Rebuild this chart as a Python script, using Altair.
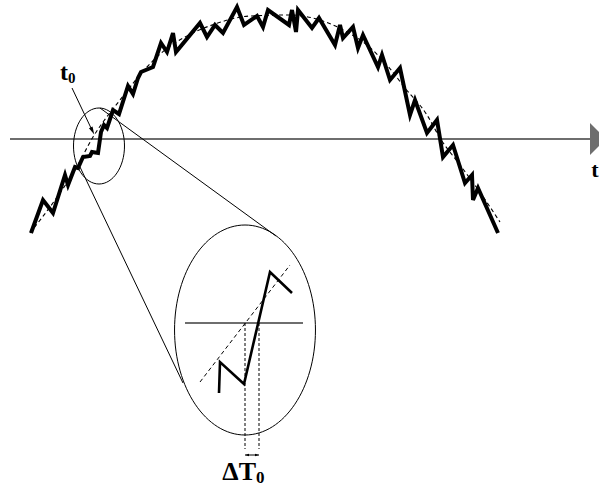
import altair as alt
import pandas as pd

W, H = 599, 488

# noisy signal, drawing units (y grows downward)
trace_x = [31, 43, 53, 65, 68, 75, 78, 83, 90, 92, 98, 101, 104, 107, 113, 119, 128, 133, 138, 141,
           153, 161, 167, 173, 176, 200, 207, 215, 223, 237, 244, 257, 263, 268, 289, 292, 296, 298,
           312, 319, 335, 340, 343, 353, 358, 363, 378, 382, 390, 400, 410, 415, 427, 437, 443, 453,
           465, 472, 473, 478, 498]
trace_y = [233, 200, 213, 175, 185, 167, 168, 157, 156, 152, 153, 132, 125, 128, 110, 114, 86, 94, 78, 72,
           67, 43, 52, 33, 52, 23, 37, 25, 33, 7, 25, 16, 27, 10, 25, 10, 32, 10,
           28, 18, 45, 25, 38, 27, 48, 35, 67, 55, 80, 68, 115, 100, 133, 120, 157, 145,
           183, 175, 200, 188, 233]

# smooth trend under the noise
trend_x = [30, 55, 75, 93, 120, 147, 165, 185, 215, 250, 290, 320, 347, 367, 387, 405, 427, 440, 460, 477, 500]
trend_y = [233, 200, 170, 137, 100, 67, 50, 37, 24, 16, 15, 20, 32, 45, 65, 88, 115, 138, 165, 188, 222]

# time axis
axis_x = [10, 592]
axis_y = [139, 139]

# magnified detail around the crossing
zoom_trace_x = [219, 220, 244, 270, 292]
zoom_trace_y = [393, 362, 384, 272, 293]
zoom_trend_x = [200, 290]
zoom_trend_y = [382, 265]
zoom_axis_x = [185, 303]
zoom_axis_y = [323, 323]
drop_x = [245, 259]
drop_top, drop_bottom = 323, 449
delta_y = 455

# lens outlines: centre x, centre y, half height
lens_x = [99, 245]
lens_y = [146, 330]
lens_ry = [38, 105]

# connector lines between the two lenses
conn_x1 = [100, 80]
conn_y1 = [108, 167]
conn_x2 = [276, 183]
conn_y2 = [236, 383]

# pointer to t0
ptr_x = [72, 91]
ptr_y = [88, 128]

SERIF = "Liberation Serif, DejaVu Serif, serif"

xs = alt.Scale(domain=[0, W], range=[0, W], nice=False, zero=False)
ys = alt.Scale(domain=[0, H], range=[0, H], nice=False, zero=False)
X = alt.X("x:Q", scale=xs, axis=None)
Y = alt.Y("y:Q", scale=ys, axis=None)


def path_df(xv, yv, g=0):
    return pd.DataFrame({"x": xv, "y": yv, "i": list(range(len(xv))), "g": [g] * len(xv)})


def line(df, **kw):
    return alt.Chart(df).mark_line(**kw).encode(x=X, y=Y, order="i:Q", detail="g:N")


layers = []

# time axis and arrow head
layers.append(line(path_df(axis_x, axis_y), color="#6e6e6e", strokeWidth=2))
layers.append(
    alt.Chart(pd.DataFrame({"x": [598], "y": [axis_y[0]]}))
    .mark_point(shape="M-0.5,-1L0.5,0L-0.5,1Z", filled=True, size=1024, color="#6e6e6e", opacity=1)
    .encode(x=X, y=Y)
)

# noisy signal and its trend
layers.append(line(path_df(trace_x, trace_y), color="black", strokeWidth=4, strokeJoin="miter"))
layers.append(line(path_df(trend_x, trend_y), color="black", strokeWidth=1.1, strokeDash=[4, 3],
                   interpolate="monotone"))

# lenses
ellipse = "M0,-1A0.671,1 0 1,1 0,1A0.671,1 0 1,1 0,-1Z"
for cx, cy, ry in zip(lens_x, lens_y, lens_ry):
    layers.append(
        alt.Chart(pd.DataFrame({"x": [cx], "y": [cy]}))
        .mark_point(shape=ellipse, filled=False, size=(2 * ry) ** 2, color="black",
                    strokeWidth=1, opacity=1)
        .encode(x=X, y=Y)
    )

# connectors
conn = pd.concat([path_df([a, b], [c, d], g) for g, (a, c, b, d)
                  in enumerate(zip(conn_x1, conn_y1, conn_x2, conn_y2))])
layers.append(line(conn, color="black", strokeWidth=1))

# pointer to t0
layers.append(line(path_df(ptr_x, ptr_y), color="black", strokeWidth=1))
layers.append(
    alt.Chart(pd.DataFrame({"x": [92.5], "y": [131]}))
    .mark_point(shape="M-0.5,-1L0.5,-1L0,1Z", filled=True, size=64, color="black", opacity=1,
                angle=334)
    .encode(x=X, y=Y)
)

# magnified detail
layers.append(line(path_df(zoom_axis_x, zoom_axis_y), color="#6e6e6e", strokeWidth=2))
layers.append(line(path_df(zoom_trend_x, zoom_trend_y), color="black", strokeWidth=1,
                   strokeDash=[4, 3]))
layers.append(line(path_df(zoom_trace_x, zoom_trace_y), color="black", strokeWidth=2.6,
                   strokeJoin="miter"))
drops = pd.concat([path_df([dx, dx], [drop_top, drop_bottom], g) for g, dx in enumerate(drop_x)])
layers.append(line(drops, color="black", strokeWidth=1, strokeDash=[3, 2]))
layers.append(line(path_df(drop_x, [delta_y, delta_y]), color="black", strokeWidth=1))
layers.append(
    alt.Chart(pd.DataFrame({"x": [drop_x[1] - 2], "y": [delta_y]}))
    .mark_point(shape="M-1,-0.6L1,0L-1,0.6Z", filled=True, size=16, color="black", opacity=1)
    .encode(x=X, y=Y)
)
layers.append(
    alt.Chart(pd.DataFrame({"x": [drop_x[0] + 2], "y": [delta_y]}))
    .mark_point(shape="M1,-0.6L-1,0L1,0.6Z", filled=True, size=16, color="black", opacity=1)
    .encode(x=X, y=Y)
)

# labels
labels = pd.DataFrame({
    "x": [68, 68, 595, 256, 256],
    "y": [80, 83, 177, 480, 483],
    "t": ["t", "0", "t", "ΔT", "0"],
    "s": [24, 15, 22, 26, 17],
    "a": ["right", "left", "center", "right", "left"],
})
for _, r in labels.iterrows():
    layers.append(
        alt.Chart(pd.DataFrame([r]))
        .mark_text(font=SERIF, fontWeight="bold", fontSize=int(r["s"]),
                   align=r["a"], baseline="alphabetic", color="black")
        .encode(x=X, y=Y, text="t:N")
    )

chart = (
    alt.layer(*layers)
    .properties(width=W, height=H, padding=0, autosize=alt.AutoSizeParams(type="none"))
    .configure_view(stroke=None)
)

chart.save("out.html", embed_options={"renderer": "svg", "actions": False})
